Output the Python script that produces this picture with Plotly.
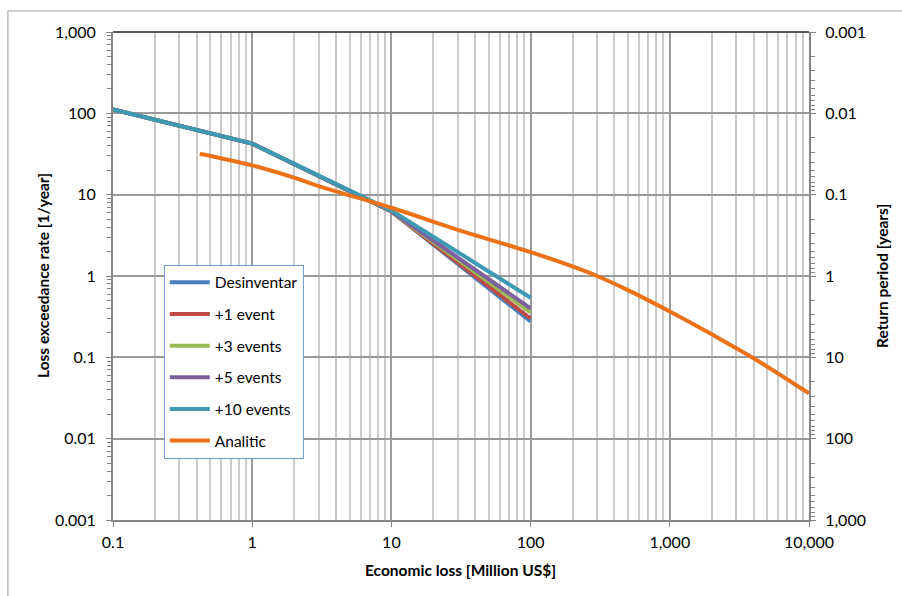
import plotly.graph_objects as go

# Economic loss [Million US$] at which the empirical curves are evaluated
loss_musd = [0.1, 1, 10, 100]
rate_desinventar = [112, 42.5, 6.2, 0.277]
rate_plus1 = [112, 42.5, 6.2, 0.30]
rate_plus3 = [112, 42.5, 6.2, 0.357]
rate_plus5 = [112, 42.5, 6.25, 0.40]
rate_plus10 = [112, 42.5, 6.4, 0.54]

# Analytical loss exceedance curve
loss_analitic = [0.42, 1, 2, 3, 10, 30, 100, 200, 300, 500, 1000, 2000, 4000, 10000]
rate_analitic = [31.9, 22.9, 16.2, 12.7, 6.9, 3.7, 1.97, 1.31, 1.0, 0.67,
                 0.366, 0.192, 0.0975, 0.036]

series_names = ["Desinventar", "+1 event", "+3 events", "+5 events", "+10 events"]
series_rates = [rate_desinventar, rate_plus1, rate_plus3, rate_plus5, rate_plus10]
series_colors = ["#4A7EBB", "#BE4B48", "#98B954", "#7D60A0", "#3E9AB3"]
analitic_color = "#EC7117"

x_tickvals = [0.1, 1, 10, 100, 1000, 10000]
x_ticktext = ["0.1", "1", "10", "100", "1,000", "10,000"]
y_tickvals = [0.001, 0.01, 0.1, 1, 10, 100, 1000]
y_ticktext = ["0.001", "0.01", "0.1", "1", "10", "100", "1,000"]
rp_tickvals = [1000, 100, 10, 1, 0.1, 0.01, 0.001]
rp_ticktext = ["1,000", "100", "10", "1", "0.1", "0.01", "0.001"]

x_minor = [m * 10 ** e for e in range(-1, 4) for m in range(2, 10)]
y_minor = [m * 10 ** e for e in range(-3, 3) for m in range(2, 10)]

FONT = "Lato, 'Open Sans', sans-serif"
AXIS_GRAY = "#868686"
MAJOR_GRID = "#9a9a9a"
MINOR_GRID = "#cbcbcb"

fig = go.Figure()

for i, (name, rates, color) in enumerate(zip(series_names, series_rates, series_colors)):
    fig.add_trace(go.Scatter(
        x=loss_musd, y=rates, mode="lines", name=name,
        line=dict(color=color, width=4), legendgroup=f"g{i}",
    ))

fig.add_trace(go.Scatter(
    x=loss_analitic, y=rate_analitic, mode="lines", name="Analitic",
    line=dict(color=analitic_color, width=4, shape="spline", smoothing=1.0),
    legendgroup="g5",
))

# Return period scale (reciprocal of the exceedance rate) on the secondary axis
fig.add_trace(go.Scatter(
    x=loss_analitic, y=[1.0 / r for r in rate_analitic], mode="lines",
    yaxis="y2", line=dict(width=0, color="rgba(0,0,0,0)"),
    showlegend=False, hoverinfo="skip",
))

tick_font = dict(family=FONT, size=16, color="#000000")

fig.update_layout(
    width=902, height=596,
    margin=dict(l=113, r=93, t=32, b=76),
    paper_bgcolor="white", plot_bgcolor="white",
    font=dict(family=FONT, size=15, color="#000000"),
    showlegend=True,
    legend=dict(
        x=0.073, y=0.523, xanchor="left", yanchor="top",
        bgcolor="white", bordercolor="#6F9AD3", borderwidth=1,
        font=dict(family=FONT, size=15.5), tracegroupgap=8.5,
        traceorder="grouped", itemwidth=40,
    ),
    xaxis=dict(
        type="log", range=[-1, 4],
        tickmode="array", tickvals=x_tickvals, ticktext=x_ticktext,
        tickfont=tick_font, ticks="outside", ticklen=5, tickcolor=AXIS_GRAY,
        showline=True, linecolor=AXIS_GRAY, linewidth=2,
        showgrid=True, gridcolor=MAJOR_GRID, gridwidth=1.5,
        minor=dict(tickmode="array", tickvals=x_minor, showgrid=True,
                   gridcolor=MINOR_GRID, gridwidth=1.5, ticks=""),
        zeroline=False, ticklabelstandoff=2,
    ),
    yaxis=dict(
        type="log", range=[-3, 3],
        tickmode="array", tickvals=y_tickvals, ticktext=y_ticktext,
        tickfont=tick_font, ticks="outside", ticklen=5, tickcolor=AXIS_GRAY,
        showline=True, linecolor=AXIS_GRAY, linewidth=2,
        showgrid=True, gridcolor=MAJOR_GRID, gridwidth=1.5,
        minor=dict(tickmode="array", tickvals=y_minor, ticks="outside",
                   ticklen=4, tickcolor=AXIS_GRAY, showgrid=False),
        zeroline=False, ticklabelstandoff=7,
    ),
    yaxis2=dict(
        type="log", range=[3, -3], overlaying="y", side="right",
        tickmode="array", tickvals=rp_tickvals, ticktext=rp_ticktext,
        tickfont=tick_font, ticks="outside", ticklen=5, tickcolor=AXIS_GRAY,
        showline=True, linecolor=AXIS_GRAY, linewidth=2,
        showgrid=False, zeroline=False,
        minor=dict(tickmode="array", tickvals=y_minor, ticks="outside",
                   ticklen=4, tickcolor=AXIS_GRAY, showgrid=False),
        ticklabelstandoff=6,
    ),
    yaxis3=dict(
        type="log", range=[-3, 3], overlaying="y", side="left",
        tickmode="array", tickvals=y_tickvals, showticklabels=False,
        ticks="inside", ticklen=5, tickcolor=AXIS_GRAY,
        minor=dict(tickmode="array", tickvals=y_minor, ticks="inside",
                   ticklen=4, tickcolor=AXIS_GRAY, showgrid=False),
        showgrid=False, zeroline=False, showline=False,
    ),
    yaxis4=dict(
        type="log", range=[3, -3], overlaying="y", side="right",
        tickmode="array", tickvals=rp_tickvals, showticklabels=False,
        ticks="inside", ticklen=5, tickcolor=AXIS_GRAY,
        minor=dict(tickmode="array", tickvals=y_minor, ticks="inside",
                   ticklen=4, tickcolor=AXIS_GRAY, showgrid=False),
        showgrid=False, zeroline=False, showline=False,
    ),
)

# Dark top edge of the plot area
fig.add_shape(type="line", xref="paper", yref="paper", x0=0, x1=1, y0=1, y1=1,
              line=dict(color="#262626", width=1.5), layer="above")

# Chart area frame (left and top edges)
fig.add_shape(type="line", xref="paper", yref="paper",
              x0=-0.151, x1=-0.151, y0=-0.16, y1=1.043,
              line=dict(color="#a6a6a6", width=1.2))
fig.add_shape(type="line", xref="paper", yref="paper",
              x0=-0.151, x1=1.14, y0=1.043, y1=1.043,
              line=dict(color="#a6a6a6", width=1.2))

title_font = dict(family=FONT, size=15.5, color="#000000")
fig.add_annotation(text="<b>Loss exceedance rate [1/year]</b>", textangle=-90,
                   xref="paper", yref="paper", x=(43 - 113) / 696, y=0.5,
                   xanchor="center", yanchor="middle", showarrow=False, font=title_font)
fig.add_annotation(text="<b>Return period [years]</b>", textangle=-90,
                   xref="paper", yref="paper", x=(882 - 113) / 696, y=0.5,
                   xanchor="center", yanchor="middle", showarrow=False, font=title_font)
fig.add_annotation(text="<b>Economic loss [Million US$]</b>",
                   xref="paper", yref="paper", x=(460 - 113) / 696, y=(520 - 570) / 488,
                   xanchor="center", yanchor="middle", showarrow=False, font=title_font)

fig.write_html("out.html")
